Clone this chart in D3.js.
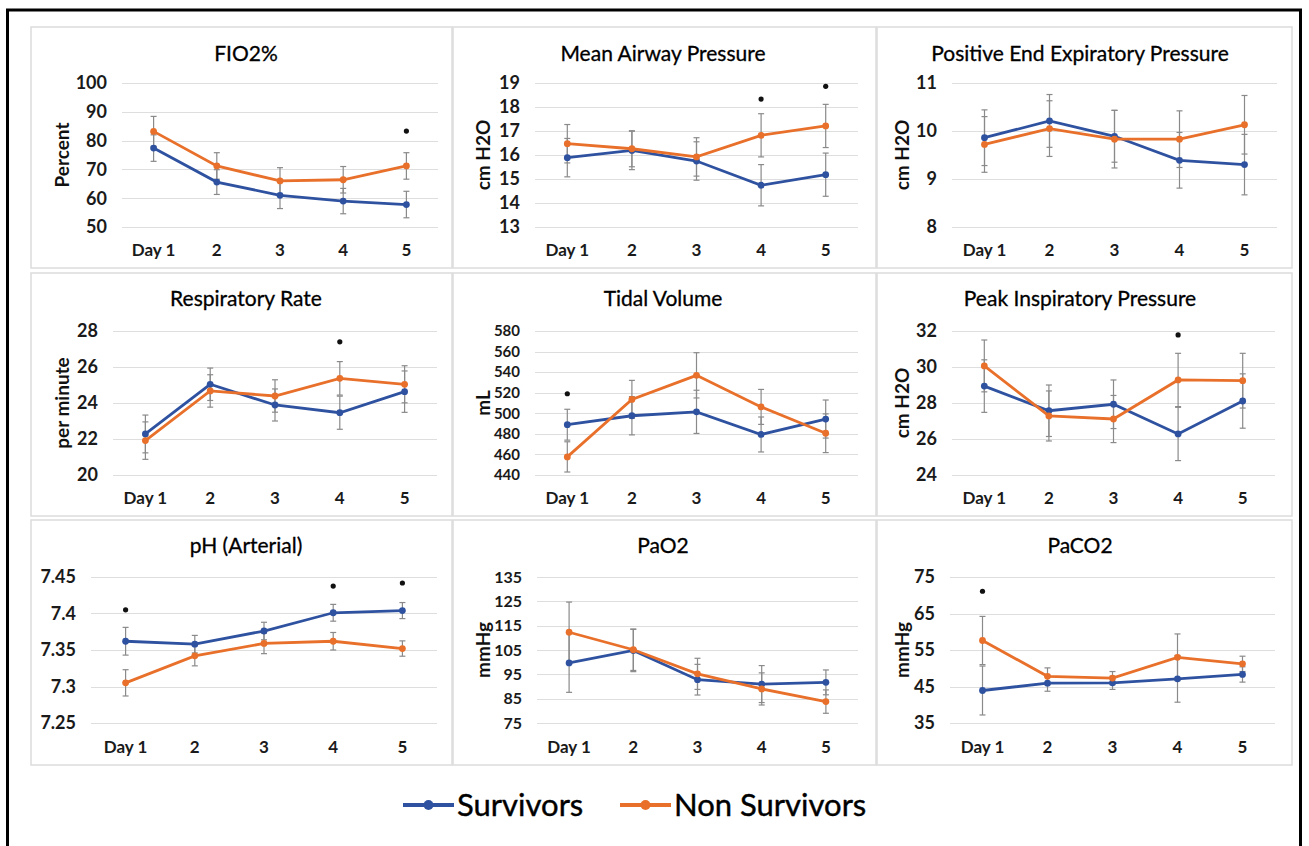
<!DOCTYPE html>
<html>
<head>
<meta charset="utf-8">
<script src="https://cdn.jsdelivr.net/npm/d3@7"></script>
<style>
  body { margin: 0; background: #fff; }
  svg { display: block; font-family: Lato, "Open Sans", sans-serif; }
</style>
</head>
<body>
<div id="chart"></div>
<script>
// ventilator / blood gas parameters, survivors vs non survivors, days 1-5

var days = ["Day 1", "2", "3", "4", "5"];

var titles = ["FIO2%", "Mean Airway Pressure", "Positive End Expiratory Pressure",
              "Respiratory Rate", "Tidal Volume", "Peak Inspiratory Pressure",
              "pH (Arterial)", "PaO2", "PaCO2"];
var yTitles = ["Percent", "cm H2O", "cm H2O", "per minute", "mL", "cm H2O", "", "mmHg", "mmHg"];

var yMin  = [50, 13, 8, 20, 440, 24, 7.25, 75, 35];
var yMax  = [100, 19, 11, 28, 580, 32, 7.45, 135, 75];
var yStep = [10, 1, 1, 2, 20, 2, 0.05, 10, 10];

var survivors = [
  [77.4, 65.6, 61.0, 59.0, 57.8],
  [15.89, 16.19, 15.75, 14.74, 15.18],
  [9.86, 10.21, 9.89, 9.39, 9.30],
  [22.28, 25.04, 23.89, 23.46, 24.63],
  [488.9, 497.6, 501.4, 479.4, 494.4],
  [28.94, 27.57, 27.93, 26.28, 28.11],
  [7.362, 7.358, 7.376, 7.401, 7.404],
  [99.7, 104.8, 92.8, 91.0, 91.7],
  [43.9, 45.9, 46.0, 47.1, 48.3]
];
var survivorsErr = [
  [4.6, 4.3, 4.6, 4.4, 4.6],
  [0.8, 0.8, 0.8, 0.86, 0.9],
  [0.58, 0.55, 0.54, 0.58, 0.63],
  [1.05, 0.9, 0.89, 0.92, 1.15],
  [15, 18.6, 21, 17, 18.5],
  [1.46, 1.43, 1.35, 1.48, 1.51],
  [0.019, 0.012, 0.012, 0.0115, 0.011],
  [12.1, 8.7, 6.3, 7.6, 5.1],
  [6.7, 2.2, 1.8, 6.4, 2.1]
];
var nonSurvivors = [
  [83.2, 71.2, 66.0, 66.4, 71.2],
  [16.47, 16.26, 15.92, 16.82, 17.21],
  [9.72, 10.05, 9.83, 9.83, 10.13],
  [21.91, 24.67, 24.39, 25.37, 25.04],
  [457.6, 513.5, 536.9, 506.2, 480.6],
  [30.06, 27.28, 27.11, 29.28, 29.24],
  [7.305, 7.342, 7.359, 7.362, 7.352],
  [112.3, 105.1, 95.2, 89.0, 83.8],
  [57.6, 47.8, 47.3, 53.0, 51.2]
];
var nonSurvivorsErr = [
  [5.2, 4.6, 4.6, 4.6, 4.6],
  [0.8, 0.75, 0.8, 0.9, 0.9],
  [0.58, 0.58, 0.6, 0.59, 0.61],
  [1.04, 0.9, 0.9, 0.93, 1.03],
  [14.7, 18.5, 22, 17, 18.8],
  [1.44, 1.39, 1.31, 1.48, 1.52],
  [0.018, 0.0137, 0.014, 0.012, 0.0105],
  [12.4, 8.5, 6.4, 6.6, 4.8],
  [6.6, 2.3, 1.8, 6.4, 2.1]
];
// significance dots: [day index, value]
var sigMarks = [
  [[4, 83.3]],
  [[3, 18.33], [4, 18.86]],
  [],
  [[3, 27.4]],
  [[0, 519]],
  [[3, 31.78]],
  [[0, 7.405], [3, 7.4376], [4, 7.4418]],
  [],
  [[0, 71.1]]
];

var seriesNames = ["Survivors", "Non Survivors"];
var colors = ["#2f52a0", "#e8702a"];

// layout
var width = 1309, height = 846;
var colX = [[31, 452], [453, 876], [877, 1292]];
var rowY = [[27, 268], [273, 516], [520, 765]];
var gridTop = [83, 331, 577], gridBottom = [227, 475, 723];
var xLabelY = [250, 498, 747], titleY = [54, 299, 546];
var titleCx = [246, 663, 1080], yTitleX = [62, 483, 902];
var plotX = [[122, 438], [535, 858], [952, 1277],
             [113, 437], [535, 858], [952, 1275],
             [91, 437], [537, 858], [950, 1275]];
var tickSize = [18, 18, 18, 18, 15, 18, 18, 16, 18];

var svg = d3.select("#chart").append("svg")
    .attr("width", width)
    .attr("height", height);

svg.append("rect")
    .attr("x", 7.5).attr("y", 10)
    .attr("width", 1293).attr("height", 850)
    .style("fill", "none")
    .style("stroke", "#000")
    .style("stroke-width", 3);

titles.forEach(function(title, i) {
    var row = Math.floor(i / 3), col = i % 3;
    var g = svg.append("g");

    g.append("rect")
        .attr("x", colX[col][0]).attr("y", rowY[row][0])
        .attr("width", colX[col][1] - colX[col][0])
        .attr("height", rowY[row][1] - rowY[row][0])
        .style("fill", "#fff")
        .style("stroke", "#dcdcdc")
        .style("stroke-width", 1.5);

    var x = d3.scalePoint()
        .domain(days)
        .range(plotX[i])
        .padding(0.5);

    var y = d3.scaleLinear()
        .domain([yMin[i], yMax[i]])
        .range([gridBottom[row], gridTop[row]]);

    var ticks = d3.range(yMin[i], yMax[i] + yStep[i] / 2, yStep[i]);
    var fmt = function(d) { return String(+d.toFixed(2)); };

    // gridlines + tick labels
    g.selectAll(".grid")
        .data(ticks)
        .enter().append("line")
        .attr("x1", plotX[i][0]).attr("x2", plotX[i][1])
        .attr("y1", function(d) { return Math.round(y(d)) + 0.5; })
        .attr("y2", function(d) { return Math.round(y(d)) + 0.5; })
        .style("stroke", "#dedede")
        .style("stroke-width", 1);

    g.selectAll(".ytick")
        .data(ticks)
        .enter().append("text")
        .attr("x", plotX[i][0] - 15)
        .attr("y", function(d) { return y(d); })
        .attr("dy", "0.35em")
        .style("text-anchor", "end")
        .style("font-size", tickSize[i] + "px")
        .style("font-weight", "bold")
        .style("fill", "#1a1a1a")
        .text(fmt);

    g.selectAll(".xtick")
        .data(days)
        .enter().append("text")
        .attr("x", function(d) { return x(d); })
        .attr("y", xLabelY[row])
        .attr("dy", "0.35em")
        .style("text-anchor", "middle")
        .style("font-size", "17px")
        .style("font-weight", "bold")
        .style("fill", "#1a1a1a")
        .text(function(d) { return d; });

    g.append("text")
        .attr("x", titleCx[col])
        .attr("y", titleY[row])
        .attr("dy", "0.35em")
        .style("text-anchor", "middle")
        .style("font-size", "21px")
        .style("fill", "#000")
        .style("stroke", "#000")
        .style("stroke-width", 0.3)
        .text(title);

    if (yTitles[i]) {
        g.append("text")
            .attr("transform", "translate(" + yTitleX[col] + "," + ((gridTop[row] + gridBottom[row]) / 2) + ") rotate(-90)")
            .attr("dy", "0.35em")
            .style("text-anchor", "middle")
            .style("font-size", "19px")
            .style("font-weight", "bold")
            .style("fill", "#111")
            .text(yTitles[i]);
    }

    var sets = [
        { vals: survivors[i], err: survivorsErr[i], color: colors[0] },
        { vals: nonSurvivors[i], err: nonSurvivorsErr[i], color: colors[1] }
    ];

    // error bars
    sets.forEach(function(s) {
        var eb = g.selectAll(null)
            .data(s.vals)
            .enter().append("g")
            .style("stroke", "#8a8a8a")
            .style("stroke-width", 1.2);
        eb.append("line")
            .attr("x1", function(d, j) { return x(days[j]); })
            .attr("x2", function(d, j) { return x(days[j]); })
            .attr("y1", function(d, j) { return y(d - s.err[j]); })
            .attr("y2", function(d, j) { return y(d + s.err[j]); });
        [-1, 1].forEach(function(sign) {
            eb.append("line")
                .attr("x1", function(d, j) { return x(days[j]) - 3; })
                .attr("x2", function(d, j) { return x(days[j]) + 3; })
                .attr("y1", function(d, j) { return y(d + sign * s.err[j]); })
                .attr("y2", function(d, j) { return y(d + sign * s.err[j]); });
        });
    });

    var line = d3.line()
        .x(function(d, j) { return x(days[j]); })
        .y(function(d) { return y(d); });

    sets.forEach(function(s) {
        g.append("path")
            .datum(s.vals)
            .attr("d", line)
            .style("fill", "none")
            .style("stroke", s.color)
            .style("stroke-width", 2.8);
        g.selectAll(null)
            .data(s.vals)
            .enter().append("circle")
            .attr("cx", function(d, j) { return x(days[j]); })
            .attr("cy", function(d) { return y(d); })
            .attr("r", 3.4)
            .style("fill", s.color);
    });

    g.selectAll(".sig")
        .data(sigMarks[i])
        .enter().append("circle")
        .attr("cx", function(d) { return x(days[d[0]]); })
        .attr("cy", function(d) { return y(d[1]); })
        .attr("r", 2.6)
        .style("fill", "#111");
});

// legend
var legend = svg.append("g");
var legendX = [403, 620];
seriesNames.forEach(function(name, k) {
    var lg = legend.append("g").attr("transform", "translate(" + legendX[k] + ",805)");
    lg.append("line")
        .attr("x1", 0).attr("x2", 51)
        .style("stroke", colors[k])
        .style("stroke-width", 4);
    lg.append("circle")
        .attr("cx", 25.5).attr("r", 5)
        .style("fill", colors[k]);
    lg.append("text")
        .attr("x", 54)
        .attr("dy", "0.35em")
        .style("font-size", "31px")
        .style("fill", "#000")
        .style("stroke", "#000")
        .style("stroke-width", 0.4)
        .text(name);
});
</script>
</body>
</html>
